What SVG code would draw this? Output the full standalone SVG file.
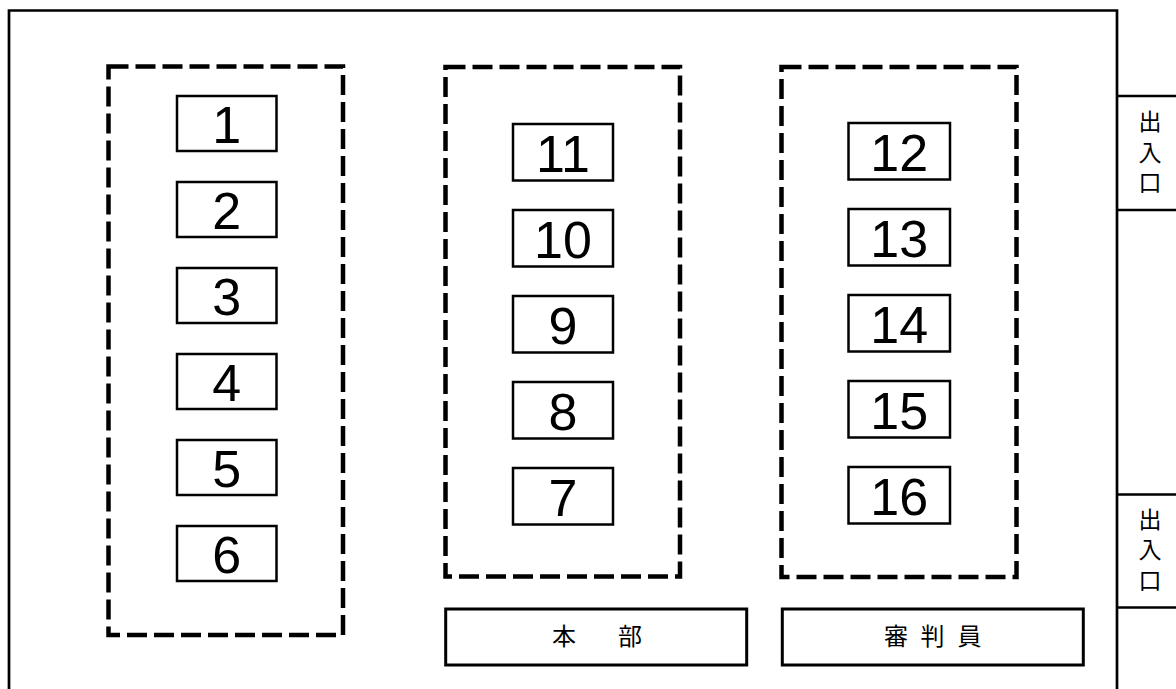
<svg xmlns="http://www.w3.org/2000/svg" width="1176" height="689" viewBox="0 0 1176 689">
<style>
.frame{fill:none;stroke:#000;stroke-width:2.7}
.zone{fill:none;stroke:#000;stroke-width:4.5;stroke-dasharray:20 7}
.box{fill:#fff;stroke:#000;stroke-width:2.5}
.lbox{fill:#fff;stroke:#000;stroke-width:3}
.num{font-family:"Liberation Sans",Arial,sans-serif;font-size:52px;text-anchor:middle;fill:#000}
.jp{font-family:"Noto Sans CJK JP","Noto Sans CJK SC",sans-serif;font-size:24px;text-anchor:middle;fill:#000}
.ex{font-family:"Noto Sans CJK JP","Noto Sans CJK SC",sans-serif;font-size:23px;writing-mode:vertical-rl;letter-spacing:7.5px;fill:#000}
</style>
<rect width="1176" height="689" fill="#fff"/>
<g id="frame">
<path class="frame" d="M9,689 V10.5 H1117 V689"/>
<path class="frame" d="M1117,96 H1176 M1117,210 H1176 M1117,494.5 H1176 M1117,607.5 H1176"/>
</g>
<g id="exit-top">
<text class="ex" x="1150" y="110">出入口</text>
</g>
<g id="exit-bottom">
<text class="ex" x="1150" y="507.5">出入口</text>
</g>
<g id="zone-left"><rect class="zone" x="108.5" y="66.5" width="234.5" height="568.5"/></g>
<g id="zone-middle"><rect class="zone" x="445.5" y="67" width="234.5" height="509.5"/></g>
<g id="zone-right"><rect class="zone" x="781.5" y="67" width="235" height="510"/></g>
<g id="n1"><rect class="box" x="177" y="96" width="99.5" height="55"/><text class="num" x="226.7" y="143.3">1</text></g>
<g id="n2"><rect class="box" x="177" y="182" width="99.5" height="55"/><text class="num" x="226.7" y="229.3">2</text></g>
<g id="n3"><rect class="box" x="177" y="268" width="99.5" height="55"/><text class="num" x="226.7" y="315.3">3</text></g>
<g id="n4"><rect class="box" x="177" y="354" width="99.5" height="55"/><text class="num" x="226.7" y="401.3">4</text></g>
<g id="n5"><rect class="box" x="177" y="440" width="99.5" height="55"/><text class="num" x="226.7" y="487.3">5</text></g>
<g id="n6"><rect class="box" x="177" y="526" width="99.5" height="55"/><text class="num" x="226.7" y="573.3">6</text></g>
<g id="n11"><rect class="box" x="513" y="124" width="100" height="56.5"/><text class="num" x="563" y="171.5">11</text></g>
<g id="n10"><rect class="box" x="513" y="210" width="100" height="56.5"/><text class="num" x="563" y="257.5">10</text></g>
<g id="n9"><rect class="box" x="513" y="296" width="100" height="56.5"/><text class="num" x="563" y="343.5">9</text></g>
<g id="n8"><rect class="box" x="513" y="382" width="100" height="56.5"/><text class="num" x="563" y="429.5">8</text></g>
<g id="n7"><rect class="box" x="513" y="468" width="100" height="56.5"/><text class="num" x="563" y="515.5">7</text></g>
<g id="n12"><rect class="box" x="848.5" y="123" width="101.5" height="56.5"/><text class="num" x="899.2" y="170.5">12</text></g>
<g id="n13"><rect class="box" x="848.5" y="209" width="101.5" height="56.5"/><text class="num" x="899.2" y="256.5">13</text></g>
<g id="n14"><rect class="box" x="848.5" y="295" width="101.5" height="56.5"/><text class="num" x="899.2" y="342.5">14</text></g>
<g id="n15"><rect class="box" x="848.5" y="381" width="101.5" height="56.5"/><text class="num" x="899.2" y="428.5">15</text></g>
<g id="n16"><rect class="box" x="848.5" y="467" width="101.5" height="56.5"/><text class="num" x="899.2" y="514.5">16</text></g>
<g id="honbu"><rect class="lbox" x="445.7" y="609" width="301" height="56"/><text class="jp"><tspan x="564" y="645">本</tspan><tspan x="630" y="645">部</tspan></text></g>
<g id="shinpanin"><rect class="lbox" x="782.3" y="609" width="301" height="56"/><text class="jp"><tspan x="896" y="645">審</tspan><tspan x="932.5" y="645">判</tspan><tspan x="969.5" y="645">員</tspan></text></g>
<g id="connectors"></g>
</svg>
